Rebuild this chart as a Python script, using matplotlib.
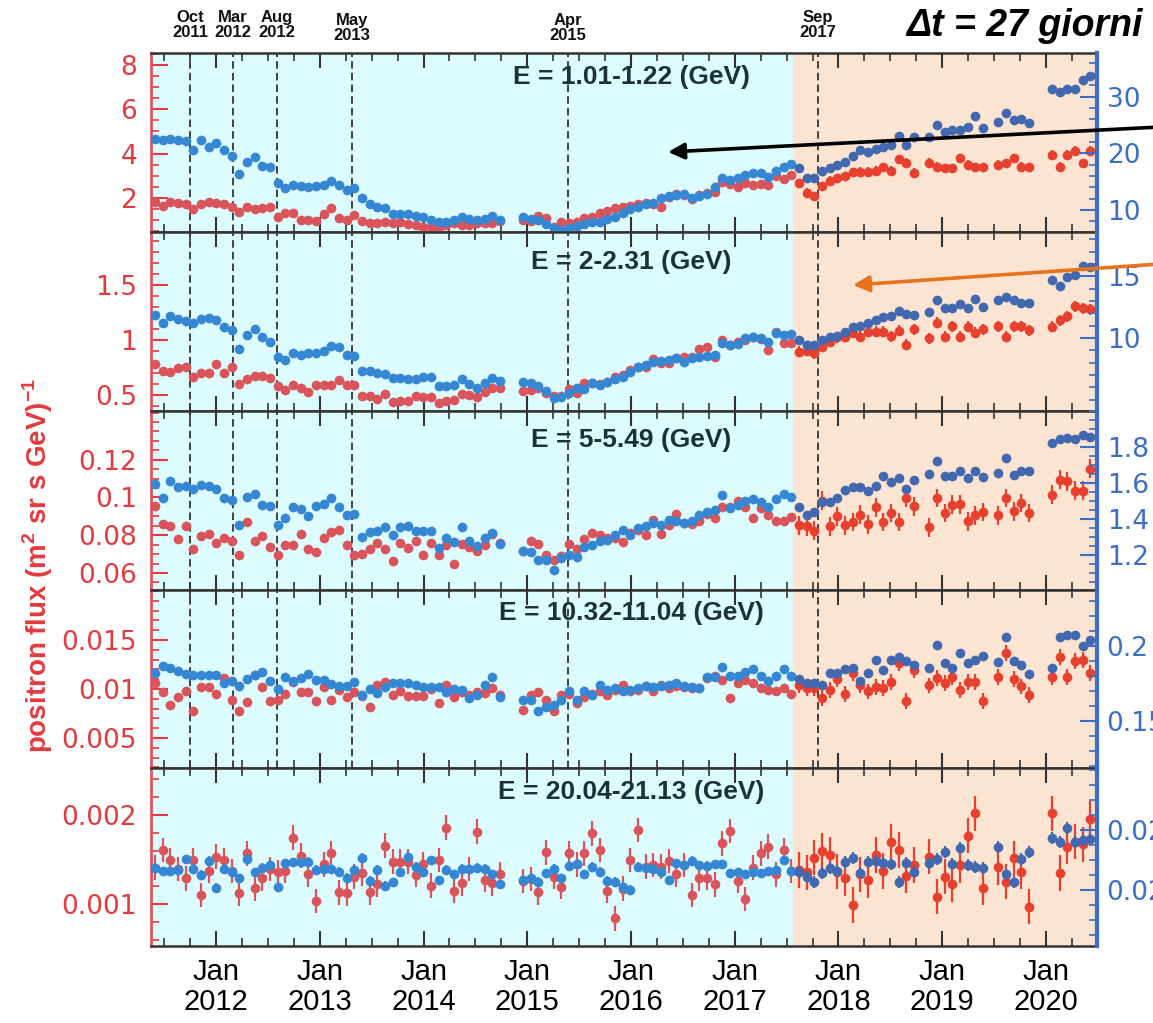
import numpy as np
import matplotlib
matplotlib.use("Agg")
import matplotlib.pyplot as plt
from matplotlib import font_manager
from matplotlib.ticker import FixedLocator, MultipleLocator

nan = np.nan

# 27 day rotations, first one starting mid May 2011
t_start = 2011.373
t_end = 2020.492
bin_days = 27.0
n_bins = 123
split_date = 2017.561  # where the cyan part ends and the peach part starts

event_dates = [2011.749, 2012.164, 2012.588, 2013.311, 2015.393, 2017.802]
event_labels = ["Oct\n2011", "Mar\n2012", "Aug\n2012", "May\n2013", "Apr\n2015", "Sep\n2017"]
year_ticks = [2012, 2013, 2014, 2015, 2016, 2017, 2018, 2019, 2020]
year_labels = ["Jan\n2012", "Jan\n2013", "Jan\n2014", "Jan\n2015", "Jan\n2016",
               "Jan\n2017", "Jan\n2018", "Jan\n2019", "Jan\n2020"]

energy_labels = ["E = 1.01-1.22 (GeV)", "E = 2-2.31 (GeV)", "E = 5-5.49 (GeV)",
                 "E = 10.32-11.04 (GeV)", "E = 20.04-21.13 (GeV)"]

# ---- panel 1 ----
p1_red = [1.83, 1.64, 1.83, 1.76, 1.73, 1.49, 1.73, 1.83, 1.76, 1.73,
          1.61, 1.38, 1.58, 1.49, 1.53, 1.61, 1.16, 1.31, 1.31, 1.01,
          1.01, 0.98, 1.28, 1.53, 1.08, 1.01, 1.23, 0.98, 0.89, 0.86,
          0.93, 0.86, 0.93, 0.83, 0.78, 0.68, 0.71, 0.66, 0.78, 0.86,
          0.78, 0.78, 0.89, 0.86, 0.89, 0.98, nan, nan, 1.01, 0.98,
          1.19, 1.08, 0.71, 0.93, 0.86, 0.93, 1.08, 1.16, 1.34, 1.43,
          1.53, 1.61, 1.64, 1.73, 1.79, 1.73, 1.58, 2.06, 2.18, 2.14,
          1.94, 2.14, 2.21, 2.29, 2.74, 2.63, 2.48, 2.66, 2.59, 2.63,
          2.59, 2.99, 2.84, 3.04, 2.66, 2.24, 2.09, 2.54, 2.77, 2.89,
          2.99, 3.16, 3.19, 3.19, 3.23, 3.38, 3.22, 3.74, 3.59, 3.14,
          nan, 3.59, 3.41, 3.34, 3.34, 3.79, 3.49, 3.38, 3.38, nan,
          3.49, 3.56, 3.79, 3.41, 3.38, nan, nan, 3.94, 3.41, 3.94,
          4.12, 3.56, 4.13]
p1_blue = [22.6, 22.4, 22.6, 22.4, 22.2, 20.6, 22.4, 21.2, 21.8, 20.6,
           19.5, 16.4, 18.4, 19.4, 17.8, 17.5, 14.8, 13.8, 14.4, 14.2,
           14.0, 14.2, 14.4, 15.1, 14.4, 13.5, 13.8, 12.1, 11.1, 10.6,
           10.3, 9.3, 9.3, 9.3, 8.9, 8.8, 8.2, 7.8, 7.9, 8.2,
           8.7, 8.5, 8.2, 8.5, 8.9, 8.2, nan, nan, 8.8, 8.5,
           8.2, 7.6, 6.8, 6.5, 6.8, 7.1, 7.5, 7.8, 7.9, 8.5,
           8.8, 9.4, 10.1, 10.6, 11.1, 11.3, 12.1, 12.4, 12.6, 12.8,
           12.1, 12.4, 12.9, 14.1, 15.6, 15.3, 15.6, 16.2, 16.5, 16.6,
           15.9, 16.9, 17.6, 18.2, 17.4, 15.6, 15.6, 16.8, 17.4, 17.9,
           18.5, 19.5, 20.6, 20.3, 20.8, 21.2, 21.5, 23.1, 21.5, 22.9,
           nan, 22.9, 25.0, 23.8, 24.1, 24.2, 24.6, 26.6, 24.4, nan,
           25.6, 27.2, 25.9, 26.1, 25.4, nan, nan, 31.4, 30.8, 31.3,
           31.3, 32.9, 33.6]

# ---- panel 2 ----
p2_red = [0.782, 0.721, 0.712, 0.742, 0.752, 0.661, 0.703, 0.697, 0.782, 0.703,
          0.758, 0.600, 0.642, 0.673, 0.673, 0.652, 0.582, 0.545, 0.591, 0.561,
          0.530, 0.591, 0.591, 0.591, 0.636, 0.591, 0.591, 0.491, 0.491, 0.461,
          0.509, 0.439, 0.448, 0.448, 0.491, 0.479, 0.479, 0.430, 0.448, 0.455,
          0.509, 0.500, 0.479, 0.530, 0.561, 0.561, nan, nan, 0.539, 0.545,
          0.561, 0.515, 0.491, 0.491, 0.552, 0.515, 0.606, 0.612, 0.600, 0.621,
          0.667, 0.682, 0.727, 0.752, 0.758, 0.824, 0.788, 0.788, 0.833, 0.842,
          0.848, 0.915, 0.939, 0.848, 1.000, 0.955, 0.985, 1.000, 1.024, 1.006,
          0.909, 1.076, 0.976, 0.976, 0.894, 0.903, 0.879, 0.939, 0.985, 1.024,
          1.030, 1.067, 1.030, 1.076, 1.076, 1.076, 1.036, 1.085, 0.955, 1.097,
          nan, 1.015, 1.158, 1.030, 1.127, 1.030, 1.121, 1.067, 1.097, nan,
          1.127, 1.030, 1.127, 1.127, 1.091, nan, nan, 1.121, 1.182, 1.218,
          1.309, 1.288, 1.282]
p2_blue = [11.86, 11.19, 11.78, 11.51, 11.41, 11.19, 11.51, 11.59, 11.46, 10.92,
           10.65, 9.08, 10.24, 10.73, 10.11, 9.70, 8.43, 8.22, 8.81, 8.62,
           8.76, 8.76, 8.97, 9.35, 9.24, 8.62, 8.54, 7.35, 7.35, 7.19,
           7.08, 6.73, 6.73, 6.65, 6.65, 6.81, 6.86, 6.11, 6.11, 6.19,
           6.65, 6.27, 5.92, 6.38, 6.73, 6.54, nan, nan, 6.46, 6.32,
           6.11, 5.73, 5.11, 5.24, 5.51, 5.92, 5.84, 6.38, 6.19, 6.46,
           6.65, 6.86, 7.27, 7.62, 7.81, 8.08, 8.16, 8.22, 8.35, 8.08,
           8.35, 8.49, 8.54, 8.62, 9.62, 9.43, 9.51, 9.97, 10.05, 9.97,
           9.70, 10.43, 10.24, 10.32, 9.84, 9.43, 9.43, 9.84, 10.05, 10.16,
           10.51, 10.86, 10.97, 11.24, 11.46, 11.68, 11.78, 12.22, 11.95, 11.86,
           nan, 12.14, 13.08, 12.41, 12.41, 12.76, 12.41, 13.14, 12.49, nan,
           13.08, 13.30, 13.08, 12.81, 12.81, nan, nan, 14.70, 14.22, 14.97,
           15.11, 15.84, 15.78]

# ---- panel 3 ----
p3_red = [0.0953, 0.0859, 0.0847, 0.0782, 0.0847, 0.0729, 0.0794, 0.0806, 0.0759, 0.0785,
          0.0768, 0.0697, 0.0870, 0.0768, 0.0794, 0.0736, 0.0697, 0.0750, 0.0746, 0.0806,
          0.0729, 0.0711, 0.0785, 0.0817, 0.0829, 0.0750, 0.0697, 0.0701, 0.0729, 0.0759,
          0.0729, 0.0662, 0.0759, 0.0732, 0.0771, 0.0697, 0.0759, 0.0697, 0.0746, 0.0648,
          0.0754, 0.0736, 0.0715, 0.0746, 0.0806, 0.0759, nan, nan, 0.0715, 0.0768,
          0.0754, 0.0697, 0.0671, 0.0688, 0.0754, 0.0729, 0.0782, 0.0812, 0.0799, 0.0785,
          0.0785, 0.0764, 0.0812, 0.0829, 0.0799, 0.0882, 0.0806, 0.0856, 0.0912, 0.0865,
          0.0859, 0.0874, 0.0912, 0.0891, 0.0948, 0.0948, 0.0979, 0.0948, 0.0891, 0.0944,
          0.0909, 0.0874, 0.0874, 0.0895, 0.0852, 0.0847, 0.0824, 0.0983, 0.0847, 0.0900,
          0.0852, 0.0870, 0.0909, 0.0859, 0.0948, 0.0870, 0.0918, 0.0870, 0.0997, 0.0953,
          nan, 0.0842, 0.0997, 0.0918, 0.0962, 0.0965, 0.0874, 0.0905, 0.0923, nan,
          0.0905, 0.0997, 0.0926, 0.0971, 0.0918, nan, nan, 0.1015, 0.1094, 0.1085,
          0.1036, 0.1036, 0.1152]
p3_blue = [1.594, 1.517, 1.609, 1.576, 1.581, 1.569, 1.587, 1.581, 1.569, 1.517,
           1.507, 1.369, 1.520, 1.539, 1.480, 1.470, 1.365, 1.406, 1.465, 1.457,
           1.415, 1.470, 1.483, 1.517, 1.465, 1.424, 1.428, 1.298, 1.328, 1.335,
           1.354, 1.313, 1.354, 1.359, 1.335, 1.335, 1.335, 1.239, 1.294, 1.272,
           1.354, 1.280, 1.248, 1.294, 1.322, 1.261, nan, nan, 1.220, 1.217,
           1.174, 1.174, 1.119, 1.183, 1.200, 1.187, 1.243, 1.257, 1.276, 1.285,
           1.313, 1.341, 1.313, 1.350, 1.359, 1.378, 1.369, 1.396, 1.387, 1.378,
           1.387, 1.424, 1.439, 1.452, 1.531, 1.461, 1.480, 1.498, 1.513, 1.494,
           1.465, 1.513, 1.539, 1.520, 1.465, 1.420, 1.439, 1.494, 1.494, 1.517,
           1.563, 1.576, 1.576, 1.554, 1.581, 1.637, 1.606, 1.628, 1.569, 1.619,
           nan, 1.650, 1.724, 1.637, 1.637, 1.665, 1.628, 1.665, 1.631, nan,
           1.656, 1.739, 1.646, 1.665, 1.665, nan, nan, 1.822, 1.846, 1.850,
           1.846, 1.869, 1.854]

# ---- panel 4 ----
p4_red = [0.01061, 0.00969, 0.00840, 0.00915, 0.00983, 0.00772, 0.01017, 0.01017, 0.00949, 0.01112,
          0.00891, 0.00779, 0.00867, 0.01139, 0.01017, 0.00881, 0.00891, 0.00949, 0.01071, 0.00969,
          0.00969, 0.00874, 0.01017, 0.00891, 0.00993, 0.00915, 0.00969, 0.00925, 0.00813, 0.01037,
          0.01071, 0.00942, 0.00983, 0.00925, 0.00925, 0.00925, 0.01003, 0.00857, 0.01044, 0.00915,
          0.00969, 0.00942, 0.00969, 0.00959, 0.01010, 0.00942, nan, nan, 0.00789, 0.00935,
          0.00969, 0.00891, 0.00772, 0.00935, 0.00949, 0.00857, 0.00915, 0.00949, 0.00976, 0.00935,
          0.00993, 0.01037, 0.00976, 0.00993, 0.01027, 0.00976, 0.01044, 0.01010, 0.01027, 0.01017,
          0.01010, 0.01010, 0.01112, 0.01129, 0.01095, 0.00908, 0.01061, 0.01095, 0.01061, 0.01010,
          0.00993, 0.00976, 0.01010, 0.00949, 0.01044, 0.01010, 0.01010, 0.00908, 0.00993, 0.01105,
          0.00949, 0.01163, 0.01037, 0.00976, 0.01017, 0.01010, 0.01071, 0.01265, 0.00881, 0.01197,
          nan, 0.01037, 0.01112, 0.01061, 0.01119, 0.00993, 0.01071, 0.01071, 0.00881, nan,
          0.01119, 0.01367, 0.01105, 0.01027, 0.00942, nan, nan, 0.01119, 0.01323, 0.01119,
          0.01289, 0.01299, 0.01163]
p4_blue = [0.1820, 0.1864, 0.1853, 0.1836, 0.1813, 0.1804, 0.1809, 0.1804, 0.1804, 0.1753,
           0.1769, 0.1731, 0.1782, 0.1804, 0.1827, 0.1769, 0.1716, 0.1791, 0.1769, 0.1787,
           0.1813, 0.1776, 0.1776, 0.1747, 0.1731, 0.1731, 0.1760, 0.1671, 0.1716, 0.1687,
           0.1724, 0.1753, 0.1753, 0.1753, 0.1738, 0.1724, 0.1724, 0.1724, 0.1693, 0.1716,
           0.1709, 0.1653, 0.1676, 0.1742, 0.1791, 0.1658, nan, nan, 0.1642, 0.1642,
           0.1564, 0.1591, 0.1609, 0.1642, 0.1702, 0.1642, 0.1702, 0.1676, 0.1738, 0.1709,
           0.1720, 0.1698, 0.1709, 0.1720, 0.1731, 0.1724, 0.1731, 0.1738, 0.1753, 0.1731,
           0.1724, 0.1720, 0.1791, 0.1791, 0.1858, 0.1798, 0.1798, 0.1827, 0.1849, 0.1798,
           0.1770, 0.1798, 0.1849, 0.1798, 0.1782, 0.1753, 0.1753, 0.1738, 0.1820, 0.1820,
           0.1849, 0.1853, 0.1769, 0.1820, 0.1909, 0.1842, 0.1909, 0.1924, 0.1902, 0.1876,
           nan, 0.1853, 0.2004, 0.1887, 0.1853, 0.1953, 0.1887, 0.1909, 0.1931, nan,
           0.1893, 0.2058, 0.1902, 0.1871, 0.1813, nan, nan, 0.1853, 0.2058, 0.2076,
           0.2076, 0.1998, 0.2042]

# ---- panel 5 ----
p5_red = [0.001408, 0.001607, 0.001494, 0.001393, 0.001288, 0.001494, 0.001101, 0.001371, 0.001532, 0.001494,
          0.001371, 0.001120, 0.001569, 0.001176, 0.001288, 0.001393, 0.001356, 0.001371, 0.001745, 0.001543,
          0.001333, 0.001034, 0.001446, 0.001569, 0.001131, 0.001120, 0.001307, 0.001345, 0.001131, 0.001221,
          0.001655, 0.001476, 0.001476, 0.001476, 0.001326, 0.001446, 0.001206, 0.001494, 0.001858, 0.001146,
          0.001232, 0.001393, 0.001813, 0.001270, 0.001232, 0.001333, nan, nan, 0.001258, 0.001281,
          0.001131, 0.001581, 0.001307, 0.001195, 0.001569, 0.001446, 0.001569, 0.001794, 0.001607, 0.001146,
          0.000839, 0.001169, 0.001494, 0.001831, 0.001419, 0.001438, 0.001419, 0.001483, 0.001333, 0.001438,
          0.001101, 0.001288, 0.001296, 0.001221, 0.001682, 0.001820, 0.001258, 0.001056, 0.001408, 0.001569,
          0.001644, 0.001333, 0.001607, 0.001371, 0.001382, 0.001356, 0.001521, 0.001596, 0.001551, 0.001363,
          0.001288, 0.000989, 0.001333, 0.001270, 0.001551, 0.001371, 0.001700, 0.001607, 0.001318, 0.001438,
          nan, 0.001532, 0.001082, 0.001307, 0.001221, 0.001438, 0.001768, 0.002019, 0.001184, nan,
          0.001419, 0.001251, 0.001513, 0.001363, 0.000970, nan, nan, 0.002019, 0.001345, 0.001644,
          0.001700, 0.001670, 0.001955]
p5_blue = [0.02274, 0.02263, 0.02263, 0.02267, 0.02303, 0.02270, 0.02250, 0.02297, 0.02208, 0.02270,
           0.02259, 0.02239, 0.02303, 0.02259, 0.02274, 0.02283, 0.02211, 0.02289, 0.02292, 0.02292,
           0.02294, 0.02267, 0.02270, 0.02270, 0.02261, 0.02241, 0.02267, 0.02308, 0.02230, 0.02267,
           0.02214, 0.02226, 0.02259, 0.02311, 0.02278, 0.02259, 0.02300, 0.02233, 0.02267, 0.02252,
           0.02270, 0.02270, 0.02274, 0.02270, 0.02252, 0.02219, nan, nan, 0.02233, 0.02239,
           0.02228, 0.02256, 0.02270, 0.02239, 0.02281, 0.02286, 0.02252, 0.02278, 0.02261, 0.02230,
           0.02228, 0.02211, 0.02200, 0.02278, 0.02272, 0.02270, 0.02261, 0.02233, 0.02289, 0.02283,
           0.02297, 0.02283, 0.02281, 0.02286, 0.02286, 0.02256, 0.02259, 0.02252, 0.02259, 0.02256,
           0.02263, 0.02267, 0.02300, 0.02263, 0.02261, 0.02244, 0.02226, 0.02256, 0.02272, 0.02263,
           0.02292, 0.02306, 0.02256, 0.02294, 0.02297, 0.02289, 0.02286, 0.02226, 0.02289, 0.02261,
           nan, 0.02289, 0.02303, 0.02326, 0.02286, 0.02341, 0.02283, 0.02278, 0.02272, nan,
           0.02344, 0.02252, 0.02226, 0.02303, 0.02326, nan, nan, 0.02374, 0.02359, 0.02406,
           0.02359, 0.02367, 0.02370]

red_series = [p1_red, p2_red, p3_red, p4_red, p5_red]
blue_series = [p1_blue, p2_blue, p3_blue, p4_blue, p5_blue]

# typical error bar size (before split, after split)
red_err = [(0.03, 0.2), (0.01, 0.05), (0.002, 0.005), (0.0004, 0.0008), (0.00014, 0.0002)]
blue_err = [(0.05, 0.3), (0.05, 0.15), (0.008, 0.012), (0.0015, 0.002), (0.00015, 0.0002)]

# axis ranges and ticks
red_lim = [(0.47, 8.53), (0.355, 1.982), (0.0510, 0.1458), (0.00194, 0.0201), (0.000528, 0.002528)]
red_ticks = [[2, 4, 6, 8], [0.5, 1, 1.5], [0.06, 0.08, 0.1, 0.12], [0.005, 0.01, 0.015], [0.001, 0.002]]
red_ticklabels = [["2", "4", "6", "8"], ["0.5", "1", "1.5"], ["0.06", "0.08", "0.1", "0.12"],
                  ["0.005", "0.01", "0.015"], ["0.001", "0.002"]]
red_minor = [0.5, 0.1, 0.005, 0.001, 0.0002]
blue_lim = [(6.12, 37.7), (4.08, 18.6), (1.006, 2.0), (0.1187, 0.2373), (0.02013, 0.02607)]
blue_ticks = [[10, 20, 30], [10, 15], [1.2, 1.4, 1.6, 1.8], [0.15, 0.2], [0.022, 0.024]]
blue_ticklabels = [["10", "20", "30"], ["10", "15"], ["1.2", "1.4", "1.6", "1.8"],
                   ["0.15", "0.2"], ["0.022", "0.024"]]
blue_minor = [2, 1, 0.05, 0.01, 0.0005]
label_y = [0.866, 0.832, 0.838, 0.871, 0.866]

for s in red_series + blue_series:
    assert len(s) == n_bins, len(s)


def pick_font(cands):
    names = {f.name for f in font_manager.fontManager.ttflist}
    for c in cands:
        if c in names:
            return c
    return "DejaVu Sans"


narrow = pick_font(["Liberation Sans Narrow", "DejaVu Sans Condensed", "Liberation Sans"])
helv = pick_font(["Liberation Sans", "DejaVu Sans"])
plt.rcParams["mathtext.fontset"] = "custom"
plt.rcParams["mathtext.rm"] = helv
plt.rcParams["mathtext.bf"] = helv + ":bold"

RED_TXT = "#e23b3f"
BLUE_TXT = "#3a6fc6"
CYAN = "#dcfcfd"
PEACH = "#fce4d2"
RED_A, RED_B = "#d9555b", "#e8402f"
BLUE_A, BLUE_B = "#3587d4", "#4268b0"
FRAME = "#333333"

W, H = 1153, 1023
left_px, right_px = 151, 1097
edges_px = [53, 232, 411, 590, 768, 946]

t = t_start + (np.arange(n_bins) + 0.5) * bin_days / 365.25
before = t < split_date

fig = plt.figure(figsize=(W / 100, H / 100), dpi=100)

axes = []
for k in range(5):
    top, bot = edges_px[k], edges_px[k + 1]
    ax = fig.add_axes([left_px / W, 1 - bot / H, (right_px - left_px) / W, (bot - top) / H])
    ax2 = ax.twinx()
    axes.append(ax)

    ax.set_xlim(t_start, t_end)
    ax.axvspan(t_start, split_date, color=CYAN, lw=0, zorder=0)
    ax.axvspan(split_date, t_end, color=PEACH, lw=0, zorder=0)
    if k < 4:
        for d in event_dates:
            ax.axvline(d, color="#222222", lw=1.2, ls=(0, (4.5, 2.5)), zorder=1)

    red = np.array(red_series[k])
    blue = np.array(blue_series[k])
    for mask, c_r, c_b, j in [(before, RED_A, BLUE_A, 0), (~before, RED_B, BLUE_B, 1)]:
        ax.errorbar(t[mask], red[mask], yerr=red_err[k][j], fmt="o", ms=7, mew=0,
                    color=c_r, ecolor=c_r, elinewidth=1.6, capsize=0, zorder=3)
        ax2.errorbar(t[mask], blue[mask], yerr=blue_err[k][j], fmt="o", ms=7, mew=0,
                     color=c_b, ecolor=c_b, elinewidth=1.6, capsize=0, zorder=3)

    ax.set_ylim(*red_lim[k])
    ax.yaxis.set_major_locator(FixedLocator(red_ticks[k]))
    ax.set_yticklabels(red_ticklabels[k])
    ax.yaxis.set_minor_locator(MultipleLocator(red_minor[k]))
    ax.tick_params(axis="y", which="both", direction="in", colors=RED_TXT, labelsize=19, pad=10)
    ax.tick_params(axis="y", which="major", length=12, width=1.5)
    ax.tick_params(axis="y", which="minor", length=6, width=1.2)

    ax2.set_ylim(*blue_lim[k])
    ax2.yaxis.set_major_locator(FixedLocator(blue_ticks[k]))
    ax2.set_yticklabels(blue_ticklabels[k])
    ax2.yaxis.set_minor_locator(MultipleLocator(blue_minor[k]))
    ax2.tick_params(axis="y", which="both", direction="in", colors=BLUE_TXT, labelsize=19, pad=7)
    ax2.tick_params(axis="y", which="major", length=12, width=1.5)
    ax2.tick_params(axis="y", which="minor", length=6, width=1.2)

    ax.xaxis.set_major_locator(FixedLocator(year_ticks))
    ax.xaxis.set_minor_locator(MultipleLocator(0.25))
    ax.tick_params(axis="x", which="both", direction="in", top=True, bottom=True,
                   colors=FRAME, labelbottom=(k == 4))
    ax.tick_params(axis="x", which="major", length=11, width=1.5)
    ax.tick_params(axis="x", which="minor", length=6, width=1.2)

    for side in ["top", "bottom"]:
        ax.spines[side].set_color(FRAME)
        ax.spines[side].set_linewidth(1.8)
        ax2.spines[side].set_visible(False)
    ax.spines["left"].set_color("#e05560")
    ax.spines["left"].set_linewidth(2)
    ax.spines["right"].set_visible(False)
    ax2.spines["left"].set_visible(False)
    ax2.spines["right"].set_color("#3a6cc8")
    ax2.spines["right"].set_linewidth(3)

    ax2.text(2016.0, label_y[k], energy_labels[k], transform=ax.get_xaxis_transform(),
             ha="center", va="center", fontsize=19, fontweight="bold",
             family=helv, color="#1d3236", zorder=5)

bottom_ax = axes[-1]
bottom_ax.set_xticklabels(year_labels, family=narrow, fontsize=21, linespacing=1.05)
bottom_ax.tick_params(axis="x", which="major", pad=9, labelcolor="black")

top_ax = axes[0]
for d, lab in zip(event_dates, event_labels):
    yy = 1.14 if lab.startswith(("May", "Apr")) else 1.155
    top_ax.text(d, yy, lab, transform=top_ax.get_xaxis_transform(), ha="center", va="center",
                fontsize=12, fontweight="bold", family=narrow, linespacing=1.0, color="#111111")

fig.text(1143 / W, 1 - 26 / H, "\u0394t = 27 giorni", ha="right", va="center",
         fontsize=27, fontweight="bold", style="italic", family=helv)

fig.text(38 / W, 1 - 565 / H, r"positron flux (m$^{\mathbf{2}}$ sr s GeV)$^{\mathbf{-1}}$",
         rotation=90, ha="center", va="center", fontsize=20, fontweight="bold",
         family=helv, color=RED_TXT)

fig.add_artist(plt.Annotation("", xy=(668, H - 152), xytext=(1160, H - 127),
                              xycoords="figure pixels", textcoords="figure pixels",
                              arrowprops=dict(arrowstyle="-|>", color="black", lw=2.6,
                                              mutation_scale=24, shrinkA=0, shrinkB=0)))
fig.add_artist(plt.Annotation("", xy=(853, H - 285), xytext=(1160, H - 264),
                              xycoords="figure pixels", textcoords="figure pixels",
                              arrowprops=dict(arrowstyle="-|>", color="#e8731e", lw=2.6,
                                              mutation_scale=24, shrinkA=0, shrinkB=0)))

fig.savefig("out.png", dpi=100)
